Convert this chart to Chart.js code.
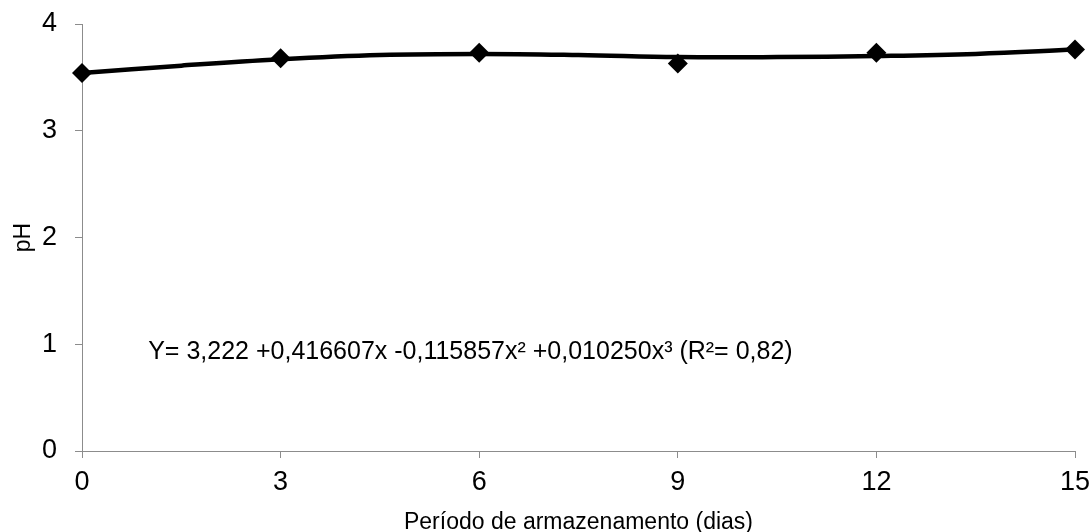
<!DOCTYPE html>
<html>
<head>
<meta charset="utf-8">
<script src="https://cdn.jsdelivr.net/npm/chart.js@4/dist/chart.umd.min.js"></script>
<style>
  html, body { margin: 0; padding: 0; background: #fff; }
  #wrap { width: 1091px; height: 532px; }
</style>
</head>
<body>
<div id="wrap"><canvas id="myChart" width="1091" height="532"></canvas></div>
<script>
//////////////////////////////////// INPUTS

// Observed pH values (diamonds)
var days = [0, 3, 6, 9, 12, 15];
var phValues = [3.54, 3.68, 3.73, 3.63, 3.73, 3.76];

// Fitted curve
var fitDays = [0, 1.5, 3, 4.5, 6, 7.5, 9, 10.5, 12, 13.5, 15];
var fitValues = [3.54, 3.61, 3.67, 3.71, 3.72, 3.71, 3.69, 3.69, 3.70, 3.72, 3.76];

// Axes
var xLabel = "Período de armazenamento (dias)";
var yLabel = "pH";
var xTicks = [0, 3, 6, 9, 12, 15];
var yTicks = [0, 1, 2, 3, 4];

var equationText = "Y= 3,222 +0,416607x -0,115857x² +0,010250x³ (R²= 0,82)";
var equationAt = { x: 1.0, y: 0.93 };

var fontFamily = "'Liberation Sans', Arial, sans-serif";
var axisGray = "#8c8c8c";

//////////////////////////////////// Setup Chart

const data = {
    datasets: [
    // datasets[0] -- fitted curve
    {
        type: 'scatter',
        label: 'ajuste',
        data: fitDays.map((d, i) => ({ x: d, y: fitValues[i] })),
        showLine: true,
        borderColor: '#000',
        borderWidth: 4.5,
        tension: 0.4,
        pointRadius: 0,
        clip: false,
    },
    // datasets[1] -- observed
    {
        type: 'scatter',
        label: 'pH',
        data: days.map((d, i) => ({ x: d, y: phValues[i] })),
        pointStyle: 'rectRot',
        pointRadius: 10,
        backgroundColor: '#000',
        borderColor: '#000',
        borderWidth: 0,
        clip: false,
    },
    ],
};

// writes the equation inside the plot area
const equationPlugin = {
    id: 'equation',
    afterDatasetsDraw(chart) {
        const ctx = chart.ctx;
        const px = chart.scales.x.getPixelForValue(equationAt.x);
        const py = chart.scales.y.getPixelForValue(equationAt.y);
        ctx.save();
        ctx.font = "25px " + fontFamily;
        ctx.fillStyle = '#000';
        ctx.textAlign = 'left';
        ctx.textBaseline = 'middle';
        ctx.fillText(equationText, px, py);
        ctx.restore();
    }
};

const config = {
    data,
    options: {
        responsive: false,
        animation: false,
        layout: {
            padding: { top: 24, right: 16, left: 0, bottom: 0 }
        },
        scales: {
            x: {
                type: 'linear',
                min: 0,
                max: 15,
                afterBuildTicks(scale) {
                    scale.ticks = xTicks.map(v => ({ value: v }));
                },
                // fixed box, and no extra room for the end labels
                afterFit(scale) {
                    scale.height = 81;
                    scale.paddingLeft = 0;
                    scale.paddingRight = 0;
                },
                border: { color: axisGray, width: 1 },
                grid: {
                    drawOnChartArea: false,
                    color: axisGray,
                    tickLength: 7,
                },
                ticks: {
                    color: '#000',
                    font: { size: 27, family: fontFamily },
                    padding: 8,
                    maxRotation: 0,
                },
                title: {
                    display: true,
                    text: xLabel,
                    color: '#000',
                    font: { size: 23, family: fontFamily, lineHeight: 1 },
                    padding: { top: 0, bottom: -2 },
                }
            },
            y: {
                min: 0,
                max: 4,
                afterBuildTicks(scale) {
                    scale.ticks = yTicks.map(v => ({ value: v }));
                },
                afterFit(scale) {
                    scale.width = 82;
                    scale.paddingTop = 0;
                    scale.paddingBottom = 0;
                },
                border: { color: axisGray, width: 1 },
                grid: {
                    drawOnChartArea: false,
                    color: axisGray,
                    tickLength: 7,
                },
                ticks: {
                    color: '#000',
                    font: { size: 27, family: fontFamily },
                    padding: 18,
                },
                title: {
                    display: true,
                    text: yLabel,
                    color: '#000',
                    font: { size: 23, family: fontFamily },
                    padding: { top: 10, bottom: 0 },
                }
            }
        },
        plugins: {
            legend: { display: false },
            tooltip: { enabled: false },
        },
    },
    plugins: [equationPlugin],
};

var myChart = new Chart(document.getElementById('myChart'), config);
</script>
</body>
</html>
